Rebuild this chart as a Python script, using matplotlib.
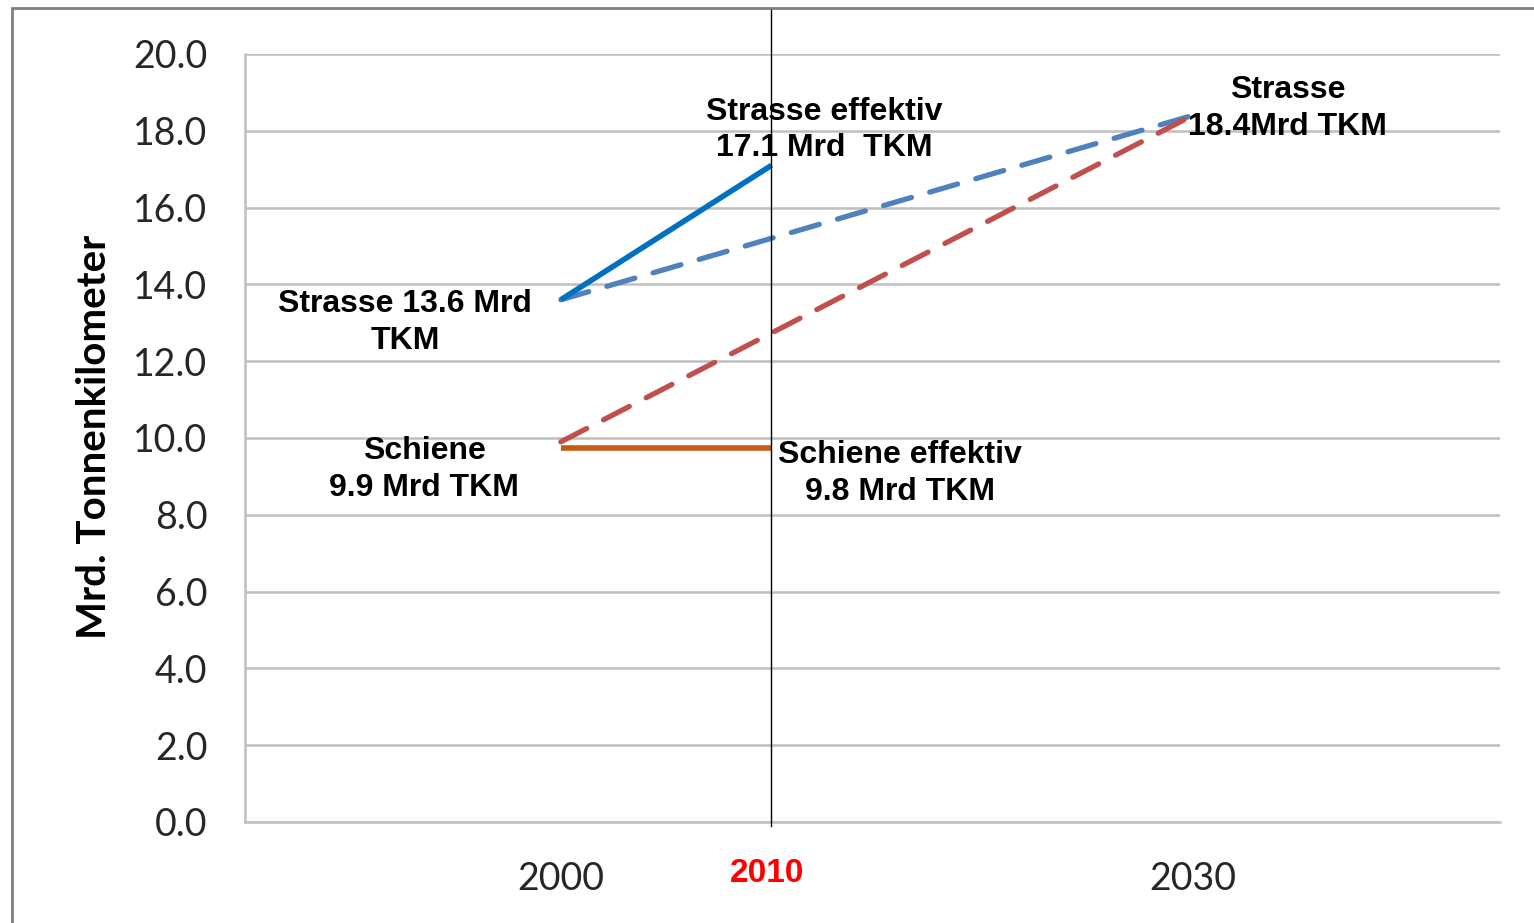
import matplotlib
matplotlib.use("Agg")
import matplotlib.pyplot as plt
from matplotlib.patches import Rectangle

# ---- data ----
years_road_actual = [2000, 2010]
road_actual = [13.6, 17.1]
years_road_plan = [2000, 2030]
road_plan = [13.6, 18.4]
years_rail_plan = [2000, 2030]
rail_plan = [9.9, 18.4]
years_rail_actual = [2000, 2010]
rail_actual = [9.75, 9.75]
ref_year = 2010
x_ticks = [2000, 2030]
x_tick_labels = ["2000", "2030"]
y_ticks = [0, 2, 4, 6, 8, 10, 12, 14, 16, 18, 20]
y_label = "Mrd. Tonnenkilometer"

fig = plt.figure(figsize=(15.34, 9.23), dpi=100)
ax = fig.add_axes([245/1534, 1-822/923, (1500-245)/1534, (822-54)/923])

ax.set_xlim(1985.0, 2044.6)
ax.set_ylim(0, 20)

grid_col = "#BFBFBF"
for v in y_ticks:
    ax.axhline(v, color=grid_col, lw=1.8, zorder=1)
for s in ["top", "right"]:
    ax.spines[s].set_visible(False)
for s in ["left", "bottom"]:
    ax.spines[s].set_color(grid_col)
    ax.spines[s].set_linewidth(1.8)

ax.set_yticks(y_ticks)
ax.set_yticklabels([f"{v:.1f}" for v in y_ticks])
ax.set_xticks(x_ticks)
ax.set_xticklabels(x_tick_labels)
ax.tick_params(axis="y", length=0, pad=27, labelsize=27, labelcolor="#262626")
ax.tick_params(axis="x", length=0, pad=28, labelsize=27, labelcolor="#262626")
for lab in ax.get_xticklabels() + ax.get_yticklabels():
    lab.set_family("Lato")

# lines
ax.plot(years_road_plan, road_plan, color="#4F81BD", lw=3.8, dashes=(5.5, 3.6),
        dash_capstyle="round", zorder=3)
ax.plot(years_rail_plan, rail_plan, color="#C0504D", lw=3.8, dashes=(5.5, 3.6),
        dash_capstyle="round", zorder=3)
ax.plot(years_road_actual, road_actual, color="#0070C0", lw=4.0,
        solid_capstyle="butt", zorder=4)
ax.plot(years_rail_actual, rail_actual, color="#C55A11", lw=4.0,
        solid_capstyle="butt", zorder=4)

# reference vertical line at 2010
ax.axvline(ref_year, ymin=-0.005, ymax=1.06, color="black", lw=1.0, clip_on=False, zorder=5)

# annotations
tf = dict(fontsize=23, fontweight="bold", family=["Liberation Sans", "DejaVu Sans"],
          ha="center", va="center", color="black", linespacing=1.3, zorder=6)
ax.text(2012.5, 18.02, "Strasse effektiv\n17.1 Mrd  TKM", **tf)
ax.text(2034.5, 18.57, "Strasse\n18.4Mrd TKM", **tf)
ax.text(1992.6, 13.0, "Strasse 13.6 Mrd\nTKM", **tf)
ax.text(1993.5, 9.19, "Schiene\n9.9 Mrd TKM", **tf)
ax.text(2016.1, 9.08, "Schiene effektiv\n9.8 Mrd TKM", **tf)

# red 2010 label
fig.text(767/1534, 1-873/923, "2010", color="red", fontsize=24, fontweight="bold",
         family=["Liberation Sans", "DejaVu Sans"], ha="center", va="center")

# y label
fig.text(95/1534, 1-437/923, y_label, rotation=90, fontsize=29, fontweight="bold",
         family=["Lato", "DejaVu Sans"], ha="center", va="center", color="black")

# outer border
fig.patches.append(Rectangle((12/1534, -0.05), 1.1, 1-8/923+0.05, transform=fig.transFigure,
                             fill=False, edgecolor="#7F7F7F", lw=2.0))

fig.savefig("out.png", dpi=100)
